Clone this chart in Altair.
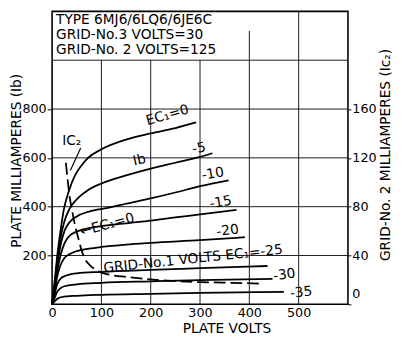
import altair as alt
import pandas as pd

# ---------------- data ----------------
# plate current Ib (mA) vs plate volts, one curve per grid-No.1 voltage
v_0 = [0, 5, 10, 17, 24, 35, 47, 60, 73, 100, 150, 200, 250, 292]
ib_0 = [0, 90, 190, 300, 390, 470, 530, 570, 600, 635, 675, 700, 722, 745]
v_5 = [0, 5, 10, 17, 25, 35, 50, 73, 100, 150, 200, 250, 300, 325]
ib_5 = [0, 80, 170, 270, 340, 390, 430, 468, 495, 528, 556, 580, 604, 619]
v_10 = [0, 5, 10, 17, 25, 35, 50, 75, 113, 150, 200, 250, 300, 358]
ib_10 = [0, 70, 150, 240, 300, 335, 360, 380, 395, 412, 434, 458, 484, 508]
v_15 = [0, 5, 10, 17, 25, 35, 50, 75, 100, 150, 200, 250, 300, 374]
ib_15 = [0, 60, 130, 200, 250, 280, 298, 312, 320, 332, 343, 356, 368, 387]
v_20 = [0, 5, 10, 17, 25, 35, 50, 75, 100, 150, 200, 300, 391]
ib_20 = [0, 50, 110, 160, 190, 205, 218, 228, 235, 245, 252, 263, 275]
v_25 = [0, 5, 10, 17, 25, 35, 50, 100, 200, 300, 437]
ib_25 = [0, 40, 80, 105, 115, 122, 127, 133, 141, 148, 157]
v_30 = [0, 5, 10, 17, 25, 50, 100, 200, 300, 447]
ib_30 = [0, 25, 50, 66, 74, 82, 88, 94, 99, 104]
v_35 = [0, 5, 10, 20, 50, 100, 200, 300, 470]
ib_35 = [0, 12, 22, 30, 35, 39, 43, 47, 51]
ec1_names = ["0", "-5", "-10", "-15", "-20", "-25", "-30", "-35"]

# grid-No.2 current Ic2 (mA) at Ec1 = 0
v_c2 = [28, 31, 35, 40, 47, 54, 60, 67, 77, 90, 100, 120, 150, 200, 250, 300, 364, 421]
ic2 = [116, 104, 90, 78, 64, 53, 44, 37, 32, 28, 26, 24, 22.5, 20.4, 19, 18.2, 17.6, 17]

# axis ticks
x_ticks = [0, 100, 200, 300, 400, 500]
ib_ticks = [200, 400, 600, 800]
ic2_ticks = [0, 40, 80, 120, 160]

# grid lines
grid_x = [100, 200, 300, 400, 500]
grid_x_top = [1000, 1000, 1000, 1120, 1200]
grid_y = [200, 400, 600, 800, 1000]

# curve labels: text, plate volts, plate mA, angle
lbl_text = ["EC\u2081=0", "Ib", "-5", "-10", "-15", "-20",
            "GRID-No.1 VOLTS EC\u2081=-25", "-30", "-35",
            "IC\u2082", "\u2190EC\u2081=0"]
lbl_v = [234, 177, 298, 326, 342, 356, 286, 471, 505, 40, 112]
lbl_i = [774, 590, 638, 534, 417, 301, 185, 120, 48, 670, 325]
lbl_ang = [344, 348, 350, 350, 350, 352, 354, 352, 354, 0, 345]

# heading lines
head_text = ["TYPE 6MJ6/6LQ6/6JE6C", "GRID-No.3 VOLTS=30", "GRID-No. 2 VOLTS=125"]
head_v = [8, 8, 8]
head_i = [1164, 1103, 1043]

# arrow from the Ic2 label to its curve
arrow_v = [58]
arrow_v2 = [37]
arrow_i = [640]
arrow_i2 = [548]

# ---------------- tables ----------------
vs = [v_0, v_5, v_10, v_15, v_20, v_25, v_30, v_35]
ibs = [ib_0, ib_5, ib_10, ib_15, ib_20, ib_25, ib_30, ib_35]
rows = []
for name, vv, ii in zip(ec1_names, vs, ibs):
    for k, (a, b) in enumerate(zip(vv, ii)):
        rows.append({"ec1": name, "k": k, "v": a, "i": b})
curves_df = pd.DataFrame(rows)
ic2_df = pd.DataFrame({"v": v_c2, "c2": ic2, "k": list(range(len(v_c2)))})
gx_df = pd.DataFrame({"v": grid_x, "i": [0] * len(grid_x), "i2": grid_x_top})
gy_df = pd.DataFrame({"i": grid_y})
lbl_df = pd.DataFrame({"t": lbl_text, "v": lbl_v, "i": lbl_i, "ang": lbl_ang})
head_df = pd.DataFrame({"t": head_text, "v": head_v, "i": head_i})
arrow_df = pd.DataFrame({"v": arrow_v, "v2": arrow_v2, "i": arrow_i, "i2": arrow_i2})

FONT = "DejaVu Sans"
xs = alt.Scale(domain=[0, 600], nice=False, zero=False)
ys = alt.Scale(domain=[0, 1200], nice=False, zero=False)
cs = alt.Scale(domain=[0, 240], nice=False, zero=False)

x_axis = alt.Axis(values=x_ticks, grid=False, ticks=False, domain=False,
                  labelPadding=2, labelFontSize=13, labelFlush=False,
                  title="PLATE VOLTS", titleFontSize=14, titleX=178, titleY=25,
                  titleBaseline="middle", titleAlign="center")
y_axis = alt.Axis(values=ib_ticks, grid=False, domain=False, tickSize=5,
                  tickWidth=1, labelPadding=1, labelFontSize=13,
                  title="PLATE MILLIAMPERES (Ib)", titleFontSize=14,
                  titleAngle=270, titleX=-36, titleY=152,
                  titleBaseline="middle", titleAlign="center")
c_axis = alt.Axis(orient="right", values=ic2_ticks, grid=False, domain=False,
                  tickSize=3, tickWidth=1, labelPadding=1, labelFontSize=13,
                  labelOffset={"condition": {"test": "datum.value == 0", "value": -11},
                               "value": 0},
                  title="GRID-No. 2 MILLIAMPERES (Ic\u2082)", titleFontSize=14,
                  titleAngle=270, titleX=38, titleY=146,
                  titleBaseline="middle", titleAlign="center")


def X(field):
    return alt.X(field, scale=xs, axis=x_axis)


def Y(field):
    return alt.Y(field, scale=ys, axis=y_axis)


gx = alt.Chart(gx_df).mark_rule(color="black", strokeWidth=0.9).encode(
    x=X("v:Q"), y=Y("i:Q"), y2="i2:Q")
gy = alt.Chart(gy_df).mark_rule(color="black", strokeWidth=0.9).encode(
    y=Y("i:Q"))

curves = alt.Chart(curves_df).mark_line(
    color="black", strokeWidth=1.8, interpolate="monotone").encode(
    x=X("v:Q"), y=Y("i:Q"), detail="ec1:N", order="k:Q")

labels = alt.Chart(lbl_df).mark_text(
    font=FONT, fontSize=14, color="black", align="center", baseline="middle").encode(
    x=X("v:Q"), y=Y("i:Q"),
    text="t:N", angle=alt.Angle("ang:Q", scale=None))

heads = alt.Chart(head_df).mark_text(
    font=FONT, fontSize=14, color="black", align="left", baseline="middle").encode(
    x=X("v:Q"), y=Y("i:Q"), text="t:N")

arrow = alt.Chart(arrow_df).mark_rule(color="black", strokeWidth=1.2).encode(
    x=X("v:Q"), x2="v2:Q", y=Y("i:Q"), y2="i2:Q")

ib_layer = alt.layer(gx, gy, curves, labels, heads, arrow)

ic2_line = alt.Chart(ic2_df).mark_line(
    color="black", strokeWidth=1.8, interpolate="monotone",
    strokeDash=[12, 5]).encode(
    x=X("v:Q"),
    y=alt.Y("c2:Q", scale=cs, axis=c_axis),
    order="k:Q")

chart = alt.layer(ib_layer, ic2_line).resolve_scale(y="independent").properties(
    width=302, height=299,
    autosize=alt.AutoSizeParams(type="none"),
    padding={"left": 45, "top": 0, "right": 47, "bottom": 35},
).configure_view(stroke="black", strokeWidth=1.6).configure_axis(
    labelFont=FONT, titleFont=FONT, labelColor="black", titleColor="black",
    tickColor="black", titleFontWeight="normal")

chart.save("out.html", embed_options={"renderer": "svg", "actions": False})
